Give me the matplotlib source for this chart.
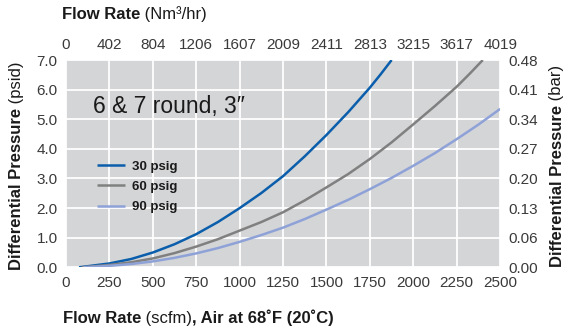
import matplotlib
matplotlib.use("Agg")
import matplotlib.pyplot as plt

# Flow rate (scfm) and pressure drop (psid) for each inlet pressure
scfm_30 = [75, 250, 375, 500, 625, 750, 875, 1000, 1125, 1250, 1375, 1500,
           1625, 1750, 1812, 1875]
psid_30 = [0.0, 0.13, 0.28, 0.50, 0.78, 1.12, 1.53, 2.00, 2.51, 3.08, 3.75,
           4.47, 5.24, 6.07, 6.52, 7.00]

scfm_60 = [90, 250, 375, 500, 625, 750, 875, 1000, 1125, 1250, 1375, 1500,
           1625, 1750, 1875, 2000, 2125, 2250, 2325, 2400]
psid_60 = [0.0, 0.08, 0.17, 0.30, 0.48, 0.70, 0.95, 1.24, 1.53, 1.86, 2.26,
           2.70, 3.15, 3.66, 4.22, 4.83, 5.45, 6.10, 6.54, 7.00]

scfm_90 = [100, 250, 375, 500, 625, 750, 875, 1000, 1125, 1250, 1375, 1500,
           1625, 1750, 1875, 2000, 2125, 2250, 2375, 2500]
psid_90 = [0.0, 0.05, 0.11, 0.20, 0.32, 0.47, 0.65, 0.86, 1.09, 1.34, 1.63,
           1.95, 2.28, 2.64, 3.02, 3.43, 3.86, 4.33, 4.82, 5.35]

series_labels = ["30 psig", "60 psig", "90 psig"]
series_colors = ["#0a5eab", "#808080", "#8ea2d8"]

scfm_ticks = [0, 250, 500, 750, 1000, 1250, 1500, 1750, 2000, 2250, 2500]
nm3_labels = ["0", "402", "804", "1206", "1607", "2009", "2411", "2813",
              "3215", "3617", "4019"]
psid_ticks = [0.0, 1.0, 2.0, 3.0, 4.0, 5.0, 6.0, 7.0]
bar_labels = ["0.00", "0.06", "0.13", "0.20", "0.27", "0.34", "0.41", "0.48"]

title_text = "6 & 7 round, 3\u2033"

FONT = ["Liberation Sans", "DejaVu Sans"]
TICK_COLOR = "#3a3a3a"
LABEL_COLOR = "#1a1a1a"
TICK_SIZE = 11

fig = plt.figure(figsize=(5.69, 3.29), dpi=100)
ax = fig.add_axes([0.116, 0.1875, 0.763, 0.630])
ax.set_facecolor("#d4d5d7")
for s in ax.spines.values():
    s.set_visible(False)

ax.set_xlim(0, 2500)
ax.set_ylim(0, 7.0)
ax.set_xticks(scfm_ticks)
ax.set_xticklabels([str(t) for t in scfm_ticks])
ax.set_yticks(psid_ticks)
ax.set_yticklabels([f"{t:.1f}" for t in psid_ticks])
ax.grid(True, color="white", linewidth=1.3)
ax.set_axisbelow(True)
ax.tick_params(length=0, labelsize=TICK_SIZE, colors=TICK_COLOR, pad=6)
for lab in ax.get_xticklabels() + ax.get_yticklabels():
    lab.set_family(FONT)

for xs, ys, lab, col in zip([scfm_30, scfm_60, scfm_90],
                            [psid_30, psid_60, psid_90],
                            series_labels, series_colors):
    ax.plot(xs, ys, color=col, linewidth=1.8, label=lab, solid_capstyle="butt")

# secondary axes: Nm3/hr on top, bar on the right
axt = ax.twiny()
axt.set_xlim(ax.get_xlim())
axt.set_xticks(scfm_ticks)
axt.set_xticklabels(nm3_labels)
axr = ax.twinx()
axr.set_ylim(ax.get_ylim())
axr.set_yticks(psid_ticks)
axr.set_yticklabels(bar_labels)
for a in (axt, axr):
    for s in a.spines.values():
        s.set_visible(False)
    a.tick_params(length=0, labelsize=TICK_SIZE, colors=TICK_COLOR, pad=6)
    for lab in a.get_xticklabels() + a.get_yticklabels():
        lab.set_family(FONT)

leg = ax.legend(loc="upper left", bbox_to_anchor=(0.045, 0.572), frameon=False,
                handlelength=2.1, handletextpad=0.55, labelspacing=0.6,
                prop={"family": FONT, "weight": "bold", "size": 9.5})
for t in leg.get_texts():
    t.set_color(LABEL_COLOR)

ax.text(0.063, 0.775, title_text, transform=ax.transAxes, fontsize=16.5,
        family=FONT, color=LABEL_COLOR, va="center", ha="left")


def hchain(pieces, x, y, size=12):
    """Horizontal label made of consecutive runs with mixed weights."""
    w0, t0 = pieces[0]
    prev = fig.text(x, y, t0, fontsize=size, family=FONT, weight=w0,
                    color=LABEL_COLOR, ha="left", va="bottom")
    for w, t in pieces[1:]:
        prev = ax.annotate(t, xy=(1, 0), xycoords=prev, fontsize=size,
                           family=FONT, weight=w, color=LABEL_COLOR,
                           ha="left", va="bottom", annotation_clip=False)
    return prev


def vchain(pieces, x, y, size=12):
    """Vertical label made of consecutive runs with mixed weights."""
    w0, t0 = pieces[0]
    prev = fig.text(x, y, t0, fontsize=size, family=FONT, weight=w0,
                    color=LABEL_COLOR, ha="center", va="bottom", rotation=90)
    for w, t in pieces[1:]:
        prev = ax.annotate(t, xy=(0, 1), xycoords=prev, fontsize=size,
                           family=FONT, weight=w, color=LABEL_COLOR,
                           rotation=90, ha="left", va="bottom",
                           annotation_clip=False)
    return prev


hchain([("bold", "Flow Rate"), ("normal", " (Nm\u00b3/hr)")],
       62 / 569, 1 - 22 / 329)
hchain([("bold", "Flow Rate"), ("normal", " (scfm)"),
        ("bold", ", Air at 68\u02daF (20\u02daC)")],
       63 / 569, 1 - 326 / 329)
vchain([("bold", "Differential Pressure"), ("normal", " (psid)")],
       17 / 569, 1 - 270 / 329)
vchain([("bold", "Differential Pressure"), ("normal", " (bar)")],
       557 / 569, 1 - 267 / 329)

fig.savefig("out.png", dpi=100)
